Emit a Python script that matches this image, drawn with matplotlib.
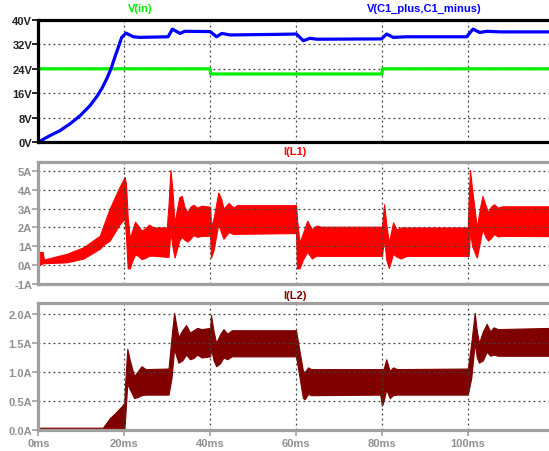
import matplotlib
matplotlib.use("Agg")
import matplotlib.pyplot as plt

plt.rcParams["font.family"] = ["Liberation Sans", "DejaVu Sans"]
plt.rcParams["font.weight"] = "bold"

# ---- data (time in ms) ----
vin_t = [0, 40.0, 40.1, 80.0, 80.1, 119]
vin_v = [24.0, 24.0, 22.3, 22.3, 24.0, 24.0]

vc_t = [0, 2.7, 5.0, 7.4, 9.7, 12.0, 13.6, 14.8, 15.9, 16.9, 17.8, 18.6, 19.4,
        20.4, 22.1, 23.6, 30.2, 31.2, 33.0, 34.1, 40.0, 41.5, 42.7, 44.6, 56.2,
        60.1, 61.7, 63.2, 64.8, 79.9, 81.1, 82.6, 85.7, 99.7, 101.2, 102.8,
        104.4, 107.5, 119]
vc_v = [0, 2.1, 3.7, 6.0, 8.6, 11.9, 14.9, 17.6, 20.7, 24.0, 27.8, 31.0, 34.3,
        35.7, 34.5, 34.3, 34.5, 37.0, 35.6, 36.3, 36.2, 34.5, 35.6, 35.1, 35.3,
        35.4, 33.2, 34.0, 33.7, 33.8, 35.4, 34.3, 34.5, 34.5, 37.0, 35.9,
        36.3, 36.1, 36.1]

# I(L1) ripple band: upper / lower envelope
il1_t = [0, 0.3, 1.0, 1.3, 6.6, 10.5, 14.3, 15.3, 16.6, 17.8, 19.0, 20.1, 20.4,
         20.8, 21.3, 21.8, 22.5, 23.2, 24.0, 24.8, 25.8, 26.8, 29.9, 30.3, 30.75,
         31.2, 31.7, 32.2, 32.8, 33.4, 34.0, 34.7, 35.4, 36.1, 37.0, 38.0, 40.0,
         40.2, 40.8, 41.9, 42.6, 43.1, 44.3, 45.4, 46.2, 60.0, 60.2, 60.8, 61.6,
         62.6, 63.7, 64.7, 65.8, 80.0, 80.5, 81.0, 81.6, 82.6, 83.4, 84.4, 85.7,
         100.0, 100.2, 100.5, 101.0, 102.1, 102.8, 103.4, 104.1, 104.7, 105.4,
         106.1, 107.0, 108.0, 119]
il1_hi = [0, 0.7, 0.7, 0.3, 0.6, 0.95, 1.56, 2.2, 3.0, 3.6, 4.2, 4.68, 4.3,
          2.5, 1.4, 1.8, 2.3, 2.1, 1.83, 1.95, 2.15, 2.0, 2.0, 3.2, 5.05,
          4.0, 2.2, 2.9, 3.6, 3.67, 3.1, 2.8, 3.1, 3.2, 3.05, 3.15, 3.1,
          2.0, 2.5, 3.85, 3.5, 3.0, 3.3, 3.05, 3.18, 3.18, 2.5, 1.2, 1.7,
          2.36, 1.9, 2.1, 2.04, 2.04, 3.23, 2.2, 1.2, 2.27, 1.9, 2.0, 2.0,
          2.0, 3.5, 5.05, 4.0, 2.0, 3.0, 3.67, 3.2, 2.8, 3.1,
          3.23, 3.05, 3.12, 3.12]
il1_lo = [0, 0, 0.1, 0.1, 0.15, 0.35, 0.87, 1.1, 1.3, 1.75, 2.2, 2.45, 1.5,
          -0.17, -0.17, 0.2, 0.55, 0.5, 0.32, 0.38, 0.5, 0.5, 0.44, 0.44, 1.8,
          1.0, 0.4, 0.8, 1.3, 1.5, 1.35, 1.25, 1.4, 1.6, 1.5, 1.55, 1.55,
          0.4, 0.8, 2.2, 1.7, 1.4, 1.75, 1.65, 1.66, 1.7, -0.17, -0.17, 0.3,
          0.7, 0.35, 0.5, 0.49, 0.49, 1.4, 0.3, -0.15, 0.6, 0.45, 0.35, 0.49,
          0.49, 0.49, 1.8, 1.0, 0.4, 1.2, 1.9, 1.5, 1.3, 1.45,
          1.65, 1.52, 1.55, 1.54]

# I(L2) ripple band
il2_t = [0, 0.5, 15.0, 16.6, 18.0, 19.4, 20.0, 20.2, 20.7, 21.3, 22.3, 23.2,
         24.0, 25.0, 30.3, 31.0, 31.6, 32.0, 32.6, 33.5, 34.4, 35.3, 36.1, 37.0,
         38.0, 40.0, 40.2, 40.8, 41.4, 42.3, 43.1, 44.0, 45.0, 60.0, 60.6, 61.6,
         62.0, 62.8, 63.5, 79.6, 80.0, 80.4, 81.0, 81.8, 82.6, 83.5, 100.0,
         100.8, 101.6, 102.1, 102.6, 103.5, 104.4, 105.2, 106.0, 107.0, 119]
il2_hi = [0.02, 0.04, 0.04, 0.2, 0.3, 0.41, 0.47, 0.8, 1.40, 1.2, 0.93, 1.02,
          1.10, 1.05, 1.06, 1.6, 2.02, 1.85, 1.6, 1.72, 1.81, 1.68, 1.72, 1.76,
          1.74, 1.76, 1.98, 1.7, 1.5, 1.65, 1.74, 1.66, 1.72, 1.72, 1.45, 1.02,
          1.0, 1.08, 1.05, 1.05, 1.05, 1.05, 1.22, 1.02, 1.08, 1.05, 1.06,
          1.5, 2.02, 1.7, 1.5, 1.7, 1.83, 1.7, 1.77, 1.74, 1.76]
il2_lo = [0, 0, 0, 0, 0, 0, 0, 0.2, 0.8, 0.7, 0.55, 0.57,
          0.6, 0.61, 0.61, 0.9, 1.4, 1.3, 1.16, 1.2, 1.3, 1.22, 1.24, 1.3,
          1.25, 1.27, 1.4, 1.2, 1.10, 1.15, 1.25, 1.22, 1.27, 1.27, 1.0, 0.55,
          0.53, 0.62, 0.6, 0.61, 0.42, 0.5, 0.7, 0.55, 0.6, 0.61, 0.61,
          0.9, 1.5, 1.25, 1.16, 1.2, 1.35, 1.28, 1.3, 1.28, 1.28]

x_ticks = [0, 20, 40, 60, 80, 100]
x_labels = ["0ms", "20ms", "40ms", "60ms", "80ms", "100ms"]
v_ticks = [0, 8, 16, 24, 32, 40]
v_labels = ["0V", "8V", "16V", "24V", "32V", "40V"]
i1_ticks = [-1, 0, 1, 2, 3, 4, 5]
i1_labels = ["-1A", "0A", "1A", "2A", "3A", "4A", "5A"]
i2_ticks = [0.0, 0.5, 1.0, 1.5, 2.0]
i2_labels = ["0.0A", "0.5A", "1.0A", "1.5A", "2.0A"]

GREEN = "#00ee00"
BLUE = "#0000ff"
RED = "#ff0000"
MAROON = "#800000"
GRAY = "#a0a0a0"
LABEL_GRAY = "#909090"

W, H = 549, 452
fig = plt.figure(figsize=(W / 100, H / 100), dpi=100)


def make_axes(top, bottom, ylim, ticks, labels, frame, label_color):
    ax = fig.add_axes([38.4 / W, 1 - bottom / H, 1 - 38.4 / W, (bottom - top) / H])
    ax.set_xlim(0, 118.9)
    ax.set_ylim(*ylim)
    ax.set_xticks(x_ticks)
    ax.set_yticks(ticks)
    ax.set_yticklabels(labels)
    ax.grid(True, linestyle=(0, (1.5, 2.5)), color="#404040", lw=0.9)
    for side in ["left", "top", "bottom"]:
        ax.spines[side].set_color(frame)
        ax.spines[side].set_linewidth(2.3)
    ax.spines["right"].set_visible(False)
    ax.tick_params(axis="y", length=4, width=1.2, color=frame, pad=0.5,
                   labelsize=8, labelcolor=label_color)
    ax.tick_params(axis="x", length=0, labelbottom=False)
    for lab in ax.get_yticklabels():
        lab.set_fontweight("bold")
    return ax


ax1 = make_axes(21, 143, (0, 40), v_ticks, v_labels, "black", "#222222")
ax1.plot(vin_t, vin_v, color=GREEN, lw=2.3)
ax1.plot(vc_t, vc_v, color=BLUE, lw=2.3)

ax2 = make_axes(163, 285, (-1, 5.47), i1_ticks, i1_labels, GRAY, LABEL_GRAY)
ax2.fill_between(il1_t, il1_lo, il1_hi, color=RED, lw=0.8, edgecolor=RED)

ax3 = make_axes(304, 431, (0, 2.19), i2_ticks, i2_labels, GRAY, LABEL_GRAY)
ax3.fill_between(il2_t, il2_lo, il2_hi, color=MAROON, lw=0.8, edgecolor=MAROON)
ax3.tick_params(axis="x", length=4, width=1.2, color=GRAY, pad=2,
                labelbottom=True, labelsize=8, labelcolor=LABEL_GRAY)
ax3.set_xticklabels(x_labels, fontweight="bold")

for x, y, s, c in [(140, 9, "V(in)", GREEN),
                   (424, 9, "V(C1_plus,C1_minus)", BLUE),
                   (295, 152, "I(L1)", RED),
                   (295, 296, "I(L2)", MAROON)]:
    fig.text(x / W, 1 - y / H, s, color=c, fontsize=8, fontweight="bold",
             ha="center", va="center")

fig.savefig("out.png", dpi=100)
